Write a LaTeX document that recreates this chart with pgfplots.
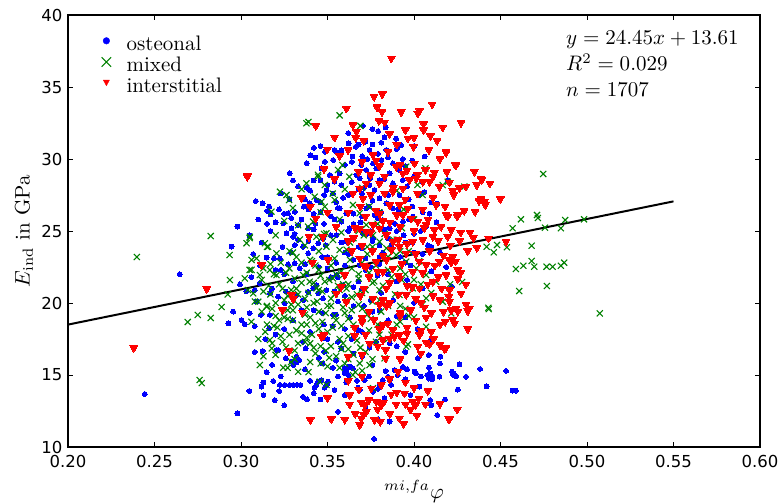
\documentclass[border=0pt]{standalone}
\usepackage{fontspec}
\usepackage{graphicx}
\usepackage{pgfplots}
\pgfplotsset{compat=1.18}
\newfontfamily\dejavu{DejaVu Sans}
\definecolor{mplgreen}{rgb}{0,0.5,0}
\newcommand\bigtxt[1]{\scalebox{2.1}{#1}}
\begin{document}
\begin{tikzpicture}
\begin{axis}[
  at={(0pt,0pt)}, anchor=south west,
  scale only axis, width=692pt, height=432pt,
  xmin=0.2, xmax=0.6, ymin=10, ymax=40,
  xtick={0.2,0.25,...,0.61}, ytick={10,15,...,40},
  tick align=inside, major tick length=5pt,
  tick style={black, line width=0.8pt},
  axis line style={black, line width=1.4pt},
  /pgf/number format/assume math mode=true,
  ticklabel style={font=\dejavu\fontsize{16.5}{18}\selectfont},
  xticklabel style={/pgf/number format/.cd, fixed, fixed zerofill, precision=2},
  xticklabel shift=5pt, yticklabel shift=2pt,
  xlabel={\bigtxt{${}^{mi,fa}\varphi$}},
  ylabel={\bigtxt{$E_{\mathrm{ind}}$ in GPa}},
  xlabel style={at={(axis description cs:0.5,0)}, anchor=north, yshift=-33pt, inner sep=0pt},
  ylabel style={at={(axis description cs:-0.0636,0.5)}, anchor=center, inner sep=0pt},
  legend style={draw=none, fill=none, at={(axis description cs:0,1)}, anchor=north west,
    xshift=32pt, yshift=-20pt, inner sep=0pt, row sep=0pt, column sep=6pt,
    nodes={inner sep=0pt, text height=15pt, text depth=6.2pt}},
  legend cell align=left,
]
\addplot[only marks, mark=*, mark size=2.4pt, mark options={draw=blue, fill=blue, line width=0pt},
  legend image code/.code={\path (0pt,0pt) (20pt,0pt); \fill[blue] (6pt,5pt) circle (3.3pt);}] coordinates {
(.3705,32.3)(.3836,32.2)(.3759,32.08)(.3792,31.94)(.3421,30.78)(.3401,30.26)(.3622,31.09)(.3663,30.85)(.3720,31.2)(.3811,31.13)(.3897,31.41)(.3830,31.5)(.3926,30.95)(.3486,30.51)(.3541,30.63)(.3644,30.17)(.3743,30.63)(.3840,30.63)(.3792,30.35)(.3936,30.0)(.4062,30.17)(.3532,29.93)(.3484,29.81)(.3465,29.35)(.3282,29.0)(.3695,29.58)(.3763,29.7)(.3811,29.93)(.3878,29.7)(.3724,29.24)(.3782,29.35)(.3859,29.0)(.3916,29.24)(.3513,28.89)(.3570,29.0)(.3667,28.89)(.3747,28.66)
(.3086,27.08)(.3125,26.92)(.3163,26.69)(.3152,26.39)(.3171,26.16)(.2979,25.3)(.2946,23.91)(.3272,26.23)(.3311,26.34)(.3363,26.69)(.3397,26.92)(.3436,27.15)(.3494,27.85)(.3532,27.61)(.3541,28.42)(.3580,28.19)
(.3263,24.84)(.3302,24.6)(.3330,24.38)(.3311,24.03)(.3359,23.91)(.3388,23.45)(.3417,23.8)(.3446,24.15)(.3474,24.49)
(.3244,25.53)(.3292,25.19)(.3330,25.42)(.3388,25.19)
(.3148,23.15)(.3225,23.1)(.3272,22.69)(.3311,22.76)(.3340,22.41)
(.2994,21.3)(.3109,21.37)(.3080,20.9)(.3167,20.67)(.3215,20.44)(.3253,19.98)(.3321,20.56)(.3359,20.21)(.3417,21.02)(.3446,20.67)(.3474,20.33)(.3494,20.9)
(.3743,28.19)(.3772,27.85)(.3801,27.27)(.3840,26.92)(.3724,26.57)(.3772,26.11)(.3820,25.76)(.3859,25.19)(.3705,24.84)(.3763,24.49)
(.3570,26.57)(.3609,26.23)(.3580,25.65)(.3628,25.19)(.3551,24.72)(.3609,24.26)
(.3686,28.66)(.3743,28.77)(.3801,28.54)(.3878,28.31)(.3936,28.54)(.3916,27.5)(.3878,26.57)(.3936,25.65)(.3993,26.0)(.4070,25.3)
(.3686,22.64)(.3551,21.94)(.3590,21.25)(.3436,21.25)(.3388,20.78)
(.2955,19.4)(.2927,18.59)(.3003,18.82)(.3022,18.52)(.3115,19.17)(.3163,18.24)(.3125,16.67)(.3215,16.74)(.3259,16.16)(.3302,15.69)(.3321,15.88)(.3292,15.92)(.3148,15.19)(.3119,14.19)(.3129,14.47)(.3048,13.89)(.3186,14.58)(.3225,14.31)(.3253,14.31)(.3282,14.31)(.3302,14.31)(.3324,14.31)(.3344,14.31)(.3221,13.89)(.3196,13.26)(.3359,13.49)(.3382,13.31)(.3426,14.12)(.3436,14.31)(.3446,14.54)(.3465,14.65)(.3421,13.73)(.3484,14.12)(.3498,14.35)(.3503,14.54)(.3541,13.96)(.3561,12.45)(.2979,12.34)(.3609,14.49)(.3647,15.47)(.3609,15.35)(.3599,15.12)(.3619,15.0)(.3676,14.12)(.3686,13.96)(.3715,14.65)(.3763,13.84)(.3792,14.03)(.3805,14.31)(.3820,14.65)(.3849,14.88)(.3859,14.65)(.3868,14.31)(.3836,15.28)(.3888,15.35)(.3936,15.56)(.3907,15.0)(.4003,15.23)(.4012,15.12)(.4032,14.19)(.4022,16.16)(.4086,15.51)(.4076,15.0)(.4086,14.9)(.4095,15.1)(.4105,14.95)(.4086,14.75)(.4105,14.7)(.4147,14.88)(.4086,16.39)(.4153,16.27)(.4230,15.12)(.4236,14.95)(.4093,13.26)(.4134,12.22)(.3859,11.76)(.3769,10.56)(.3792,11.94)(.3167,19.17)(.3205,16.74)(.3474,17.55)(.3359,17.31)(.3374,16.85)(.3321,16.27)(.3336,16.04)(.3580,16.85)(.3599,15.47)(.3628,15.58)(.3743,16.9)(.3532,19.17)
(.4263,15.74)(.4220,15.23)(.4224,15.05)(.4243,14.93)(.4301,14.88)(.4382,15.42)(.4532,15.28)(.4253,13.98)(.4420,14.21)(.4570,13.91)(.4589,13.91)
(.4220,21.13)(.4195,28.54)(.2444,13.68)(.2646,22.0)(.4186,22.5)
(.3550,27.0)(.3620,27.5)(.3680,27.9)(.3700,26.0)(.3650,25.5)(.3750,25.0)(.3800,24.0)(.3850,24.5)(.3900,25.0)(.3950,24.2)(.3600,23.5)(.3650,23.0)(.3700,23.8)(.3750,22.5)(.3800,23.2)(.3850,22.0)(.3900,21.5)(.3950,22.8)(.4000,23.5)(.3550,22.8)(.3500,23.2)(.3450,22.5)(.3520,21.8)(.3600,20.5)(.3650,19.8)(.3700,21.0)(.3750,20.2)(.3800,19.5)(.3850,18.8)(.3550,19.2)(.3480,18.5)(.3420,19.5)(.3400,18.0)(.3500,17.5)(.3600,18.2)(.3700,18.0)(.3780,17.3)(.3450,16.2)(.3550,16.0)(.3650,16.5)(.3900,17.0)(.3400,27.8)(.3460,28.5)(.3600,29.6)(.3700,30.2)(.3550,30.5)(.3620,31.8)(.3760,31.0)(.3850,30.1)(.3950,29.5)(.4000,28.8)(.4030,27.5)(.4100,27.0)(.4134,26.9)(.4050,26.3)(.4000,24.8)(.4080,24.0)(.4150,23.5)(.4100,22.2)(.4050,21.0)(.4000,20.0)(.3950,19.0)(.4020,18.2)(.4100,17.5)(.3300,21.5)(.3250,22.0)(.3200,22.3)(.3180,21.0)(.3260,20.8)(.3350,19.5)(.3300,18.8)(.3250,18.2)(.3200,17.8)(.3380,22.0)(.3150,25.5)(.3220,26.5)(.3280,27.2)(.3350,25.8)(.3420,26.2)(.3480,25.5)(.3520,26.0)(.3460,27.0)(.3380,28.0)(.3300,28.5)
(.3460,30.9)(.3580,30.6)(.3680,31.0)(.3900,30.7)(.4000,30.9)
(.3380,29.7)(.3430,30.1)(.3640,29.8)(.3730,30.0)(.3990,29.9)
(.3330,28.1)(.3420,28.5)(.3500,28.2)(.3640,28.4)(.3710,28.0)(.3830,28.6)(.3960,28.1)(.4050,28.4)
(.3230,27.6)(.3370,27.2)(.3480,27.5)(.3590,27.3)(.3700,27.6)(.3760,27.1)(.3850,27.5)(.3970,27.2)(.4060,27.7)
(.3250,26.2)(.3390,26.5)(.3460,26.3)(.3560,26.6)(.3650,26.2)(.3740,26.7)(.3810,26.3)(.3910,26.5)(.3990,26.7)(.4090,26.2)
(.3100,25.8)(.3200,25.6)(.3290,25.9)(.3430,25.5)(.3540,25.8)(.3690,25.6)(.3790,25.9)(.3890,25.5)(.3970,25.8)(.4130,25.6)
(.3050,24.7)(.3170,25.0)(.3310,24.8)(.3420,25.1)(.3520,24.7)(.3620,25.0)(.3730,24.8)(.3830,25.1)(.3940,24.7)(.4040,25.0)
(.3120,24.2)(.3240,23.9)(.3390,24.3)(.3490,24.0)(.3580,24.2)(.3680,23.9)(.3760,24.3)(.3870,24.0)(.3990,24.2)(.4100,23.9)
(.3070,23.4)(.3190,23.1)(.3290,23.5)(.3470,23.2)(.3620,23.4)(.3720,23.1)(.3820,23.5)(.3920,23.2)(.4050,23.4)
(.3110,22.6)(.3230,22.3)(.3370,22.7)(.3500,22.4)(.3600,22.6)(.3720,22.3)(.3800,22.7)(.3880,22.4)(.3980,22.6)
(.3060,21.8)(.3560,21.8)(.3680,21.5)(.3790,21.9)(.3960,21.6)
(.3030,20.8)(.3540,20.8)(.3650,21.1)(.3810,20.7)
(.3090,20.1)(.3560,20.1)(.3710,19.8)(.3880,20.2)
(.3050,19.3)(.3470,19.3)(.3630,19.0)(.3760,19.4)(.3900,19.1)
(.3080,18.4)(.3530,18.4)(.3680,18.1)(.3810,18.5)
(.3140,17.5)(.3560,17.3)(.3640,17.5)(.3860,17.2)
(.3080,16.6)(.3480,16.6)(.3700,16.3)(.3950,16.6)
(.3180,15.7)(.3370,15.4)(.3470,15.8)(.3530,15.5)(.3760,15.7)(.3960,15.4)(.4150,15.8)
(.3230,14.9)(.3400,14.6)(.3560,14.9)(.3670,14.6)(.3740,14.9)(.3950,14.7)(.4040,14.9)
(.3130,13.6)(.3460,13.3)(.3600,13.6)(.3830,13.4)(.3980,13.6)(.4180,13.3)
(.3250,12.9)(.3720,12.7)(.4100,12.9)
};
\addlegendentry{\bigtxt{osteonal}}
\addplot[only marks, mark=x, mark size=4.3pt, color=mplgreen, mark options={line width=1.1pt},
  legend image code/.code={\path (0pt,0pt) (20pt,0pt); \draw[mplgreen, line width=1.1pt] (1.3pt,0.3pt) -- (10.7pt,9.7pt) (1.3pt,9.7pt) -- (10.7pt,0.3pt);}] coordinates {
(.3378,32.48)(.3570,33.03)(.3690,32.3)(.3586,29.58)(.3445,28.9)(.3955,29.47)(.4066,29.35)(.3626,28.77)(.3561,29.24)
(.4747,28.96)
(.4291,28.08)(.4618,25.81)(.4570,25.19)(.4711,26.11)(.4716,25.9)(.4874,25.76)(.4849,25.19)(.4757,25.23)(.4983,25.81)(.4420,23.91)(.4480,24.03)(.4461,23.52)(.4537,23.87)(.4680,23.98)(.4589,22.36)(.4632,22.59)(.4680,22.92)(.4695,22.52)(.4766,22.52)(.4801,22.52)(.4849,22.59)(.4868,22.8)(.4608,20.83)(.4768,21.18)(.4278,21.46)(.4209,21.3)(.4430,19.67)
(.4432,19.58)(.5074,19.28)(.4215,19.28)
(.3225,27.73)(.3263,27.5)(.3278,27.15)(.3176,26.34)(.3051,24.6)(.3032,24.15)(.3138,24.15)(.3157,23.91)(.3205,23.45)(.3061,22.99)(.2936,21.6)(.3022,21.71)(.3109,21.94)(.3129,22.41)(.3167,22.29)(.3205,21.94)(.3071,20.67)(.3100,20.09)(.3148,19.74)(.3388,25.3)(.3417,25.65)(.3436,24.6)(.3465,24.49)(.3494,24.84)(.3532,24.38)(.3494,23.91)(.3570,23.68)(.3426,27.38)(.3465,27.04)(.3484,26.69)(.3541,27.15)(.3378,28.31)(.3446,28.77)(.3484,28.19)(.3359,21.94)(.3397,21.48)(.3436,21.02)(.3484,21.48)(.3532,21.71)(.3590,21.94)(.3647,26.81)(.3686,26.23)(.3724,25.42)(.3763,24.72)(.3801,24.26)(.3840,23.8)(.3897,23.33)(.3955,22.87)(.4013,22.41)(.4070,21.94)(.4128,21.48)(.3993,21.02)(.3916,20.56)(.4070,20.33)(.4166,20.09)(.4166,28.19)(.4195,28.42)
(.3100,17.5)(.3109,15.69)(.3167,17.43)(.3178,16.85)(.3244,15.51)(.3330,15.23)(.3455,14.54)(.3494,14.31)(.3647,15.0)(.3686,15.81)(.3763,14.08)(.3955,16.97)(.3965,17.13)(.4070,18.35)(.3830,16.16)(.3743,15.69)
(.2398,23.19)(.2692,18.68)(.2750,19.17)(.2761,14.65)(.2773,14.44)(.2825,18.96)(.2825,24.65)(.2888,19.72)(.2923,20.6)(.2934,23.33)(.3050,24.51)(.3061,22.3)(.3390,32.57)
(.3250,19.0)(.3300,19.5)(.3350,18.5)(.3400,19.0)(.3450,18.2)(.3500,19.8)(.3550,18.8)(.3600,19.3)(.3650,18.5)(.3700,19.6)(.3750,18.9)(.3800,20.2)(.3850,19.8)(.3280,17.8)(.3330,17.2)(.3380,17.6)(.3420,16.9)(.3470,17.8)(.3520,17.0)(.3570,17.5)(.3620,16.8)(.3670,17.4)(.3720,16.6)(.3270,20.5)(.3320,21.0)(.3370,20.3)(.3420,20.0)(.3470,20.8)(.3520,20.3)(.3570,20.9)(.3620,21.3)(.3670,20.6)(.3720,20.9)(.3770,21.5)(.3820,21.2)(.3870,21.8)(.3920,22.4)(.3970,23.6)(.3520,22.6)(.3580,22.2)(.3630,23.0)(.3680,22.0)(.3730,23.4)(.3780,22.6)(.3830,24.8)(.3880,24.4)(.3930,25.2)(.4000,25.8)(.3580,24.9)(.3630,24.2)(.3680,25.0)(.3730,23.9)(.3400,23.0)(.3450,23.6)(.3300,23.5)(.3350,22.8)(.3200,20.0)(.3150,18.5)(.3130,20.8)(.3220,18.8)(.3600,15.8)(.3500,15.6)(.3400,15.9)(.3550,16.3)(.3700,15.3)(.3800,17.8)(.3850,17.5)(.3900,18.5)(.3950,19.6)(.4000,19.0)(.4050,19.9)(.4100,20.7)(.4000,21.6)(.3940,26.5)(.3900,27.8)(.3800,26.3)(.3600,27.9)(.3700,28.0)(.4050,27.5)(.4020,28.2)
(.3150,23.9)(.3280,23.6)(.3370,24.0)(.3610,23.7)(.3760,23.9)(.3920,23.6)
(.3090,23.1)(.3230,22.8)(.3320,23.2)(.3410,22.9)(.3540,23.1)(.3700,22.8)(.3850,23.2)(.4030,22.9)
(.3050,22.3)(.3190,22.0)(.3280,22.4)(.3380,22.1)(.3450,22.3)(.3550,22.0)(.3640,22.4)(.3740,22.1)(.3850,22.3)(.3950,22.0)
(.3120,21.6)(.3220,21.3)(.3310,21.7)(.3420,21.4)(.3510,21.6)(.3590,21.3)(.3680,21.7)(.3760,21.4)(.3930,21.6)(.4040,21.3)
(.3040,20.9)(.3170,20.6)(.3240,21.0)(.3390,20.7)(.3450,20.9)(.3540,20.6)(.3610,21.0)(.3700,20.7)(.3800,20.9)(.3890,20.6)
(.3080,20.1)(.3150,19.8)(.3250,20.2)(.3330,19.9)(.3440,20.1)(.3520,19.8)(.3610,20.2)(.3680,19.9)(.3760,20.1)(.3920,19.8)
(.3120,19.4)(.3200,19.1)(.3270,19.5)(.3370,19.2)(.3450,19.4)(.3540,19.1)(.3640,19.5)(.3730,19.2)(.3810,19.4)(.3970,19.1)
(.3060,18.7)(.3190,18.4)(.3300,18.8)(.3380,18.5)(.3470,18.7)(.3580,18.4)(.3700,18.8)(.3790,18.5)(.3920,18.7)
(.3140,18.0)(.3230,17.7)(.3320,18.1)(.3410,17.8)(.3500,18.0)(.3620,17.7)(.3740,18.1)(.3870,17.8)
(.3180,17.2)(.3260,16.9)(.3370,17.3)(.3460,17.0)(.3590,17.2)(.3690,16.9)(.3780,17.3)
(.3200,16.4)(.3310,16.1)(.3430,16.5)(.3510,16.2)(.3650,16.4)(.3760,16.1)
(.3270,15.5)(.3390,15.2)(.3570,15.5)(.3660,15.2)
(.3200,24.7)(.3340,24.4)(.3480,24.8)(.3650,24.5)(.3710,24.7)(.3900,24.4)
(.3250,25.7)(.3330,25.4)(.3570,25.8)(.3790,25.5)
(.3300,26.6)(.3460,26.3)(.3740,26.7)
(.3350,27.9)(.3530,27.6)
(.3160,21.2)(.3290,20.9)(.3350,21.4)(.3460,21.9)(.3560,21.2)(.3180,19.6)(.3290,19.9)(.3380,19.7)(.3490,19.3)(.3590,19.7)
(.3210,18.3)(.3270,18.9)(.3350,17.9)(.3430,18.6)(.3530,18.3)(.3620,18.9)(.3240,17.3)(.3310,16.7)(.3400,17.2)(.3490,16.7)
(.3580,16.8)(.3290,15.9)(.3460,15.8)(.3620,16.1)(.3130,16.3)(.3170,22.7)(.3260,22.1)(.3430,22.6)(.3330,20.6)(.3640,20.4)
};
\addlegendentry{\bigtxt{mixed}}
\addplot[only marks, mark=triangle*, mark size=4.4pt, mark options={rotate=180, draw=red, fill=red, line width=0pt},
  legend image code/.code={\path (0pt,0pt) (20pt,0pt); \fill[red] (3pt,8pt) -- (9pt,8pt) -- (6pt,2.5pt) -- cycle;}] coordinates {
(.3869,36.99)(.3769,34.33)(.3817,34.5)(.3609,33.5)(.3786,33.6)(.3815,33.26)(.3926,33.26)(.4105,33.8)(.4032,33.35)(.4022,33.17)(.3432,32.3)(.3647,32.36)(.3797,32.66)(.3830,32.55)(.3667,31.9)(.3663,31.48)(.3541,31.5)(.3859,31.74)(.3709,31.27)(.4055,32.43)(.4055,32.0)(.4166,32.2)(.3965,31.44)(.4095,31.6)(.4134,31.27)(.3997,30.85)(.4086,30.63)(.4186,30.44)(.3499,30.67)(.3619,30.63)(.3763,30.28)(.3570,30.21)(.4003,29.7)(.3897,29.47)(.4066,29.24)(.4118,29.05)(.4239,29.58)(.3036,28.82)(.3936,29.0)
(.4272,32.52)(.4186,30.5)(.4243,29.58)(.4349,29.12)(.4388,28.66)
(.4391,28.54)(.4439,28.31)(.4363,28.19)(.4263,28.0)(.4224,27.78)(.4205,28.38)(.4388,27.22)(.4407,27.04)(.4376,27.08)(.4412,26.81)(.4499,27.22)(.4353,26.34)(.4253,26.11)(.4195,26.0)(.4215,25.07)(.4195,24.6)(.4324,24.91)(.4343,24.53)(.4263,24.31)(.4431,24.49)(.4532,24.26)(.4363,23.84)(.4224,23.22)(.4205,22.99)(.4215,22.82)(.4253,22.29)(.4253,21.67)(.4272,20.67)(.4205,20.9)(.4201,20.44)(.4205,20.09)(.4301,19.91)(.4320,19.63)(.4243,19.63)
(.4215,19.51)(.4253,19.4)(.4311,19.44)(.4224,18.82)(.4234,18.59)(.4311,18.19)(.4186,16.9)(.4205,11.94)
(.3240,19.51)(.3355,19.35)(.3278,16.67)(.3480,17.78)(.3465,17.66)(.3657,18.29)(.3657,17.73)(.3619,16.27)(.3743,17.2)(.3820,17.43)(.3859,17.55)(.3888,17.66)(.3916,17.78)(.3849,18.59)(.3878,18.12)(.3769,18.82)(.3820,18.47)(.4032,17.78)(.4022,16.97)(.4070,17.27)(.4090,17.13)(.4113,17.5)(.4176,16.81)(.3836,16.16)(.3836,16.74)(.3907,15.23)(.3859,14.72)(.3811,14.31)(.3753,14.08)(.3628,13.61)(.3628,12.97)(.3695,13.1)(.3715,12.92)(.3724,12.45)(.3709,12.27)(.3695,12.0)(.3686,11.53)(.3739,13.26)(.3782,13.15)(.3811,12.92)(.3824,13.1)(.3772,11.88)(.3805,11.76)(.3868,13.66)(.3945,13.73)(.3897,12.97)(.3951,12.97)(.3916,12.0)(.3993,13.15)(.4009,12.92)(.4028,13.38)(.4066,12.97)(.4016,12.18)(.3401,11.88)(.3522,11.94)(.4201,11.94)
(.3036,28.77)(.3432,25.88)(.3393,24.6)(.3474,24.6)(.3413,22.82)(.3503,22.99)(.3119,22.64)(.3292,20.56)(.3302,20.28)(.3599,21.94)(.3580,21.13)(.3647,27.61)(.3705,27.27)(.3686,27.97)(.3724,28.31)(.3830,27.61)(.3878,27.73)(.3936,27.97)(.3974,28.54)(.4013,28.66)(.4051,28.42)(.4109,28.77)(.4147,28.08)(.3916,26.81)(.3965,26.57)(.3936,26.11)(.3984,25.88)(.4022,25.65)(.4070,25.42)(.4128,26.81)(.4186,26.11)(.4157,25.3)(.4118,25.07)(.3686,25.19)(.3724,24.95)(.3763,25.42)(.3801,25.19)(.3840,24.72)(.3878,24.26)(.3916,23.91)(.3955,23.45)(.3993,24.26)(.4051,24.38)(.4109,24.6)(.3686,23.1)(.3724,22.52)(.3782,22.87)(.3820,22.17)(.3878,22.41)(.3916,21.71)(.3993,22.17)(.4070,22.64)(.4147,22.87)(.4186,21.94)(.4109,21.48)(.4032,21.02)(.3955,20.56)(.3840,21.02)(.3551,20.67)(.3609,20.09)(.3763,20.33)(.3801,19.86)
(.2380,16.88)(.2802,20.97)
(.3650,24.5)(.3550,25.3)(.3620,26.3)(.3700,29.8)(.3750,28.9)(.3800,29.5)(.3850,30.5)(.3900,31.0)(.3950,32.0)(.4000,31.5)(.3800,26.2)(.3860,25.6)(.3760,23.6)(.3960,21.2)(.4040,20.0)(.4100,19.3)(.4150,18.5)(.4100,18.0)(.3960,18.3)(.3920,19.3)(.3860,20.0)(.3700,19.0)(.3500,26.3)(.3350,27.3)(.3540,28.6)(.3480,29.3)(.3400,26.7)(.3620,14.6)(.3700,14.9)(.3950,14.5)(.4000,14.1)(.4080,13.9)(.4150,13.0)(.4250,12.6)(.3660,12.3)(.3600,11.9)(.3940,11.6)(.3500,13.4)
(.3780,29.9)(.3920,29.6)(.4150,30.0)
(.3680,29.1)(.3830,28.8)(.3960,29.2)(.4020,28.9)(.4190,29.1)
(.3800,28.3)(.3880,28.0)(.4090,28.4)(.4300,28.1)
(.3750,27.5)(.3950,27.2)(.4020,27.6)(.4110,27.3)(.4230,27.5)
(.3690,26.7)(.3780,26.4)(.3860,26.8)(.4050,26.5)(.4180,26.7)(.4290,26.4)
(.3720,26.0)(.3820,25.7)(.3900,26.1)(.4080,25.8)(.4250,26.0)
(.3660,25.2)(.3750,24.9)(.3920,25.3)(.4000,25.0)(.4060,25.2)(.4270,24.9)
(.3620,24.3)(.3700,24.0)(.3910,24.4)(.3960,24.1)(.4140,24.3)(.4210,24.0)
(.3640,23.6)(.3820,23.3)(.3870,23.7)(.4010,23.4)(.4090,23.6)(.4170,23.3)(.4310,23.6)
(.3710,22.6)(.3840,23.0)(.3930,22.7)(.4030,22.9)(.4120,22.6)(.4240,22.9)
(.3740,21.8)(.3790,22.2)(.3910,21.9)(.4050,22.1)(.4140,21.8)(.4270,22.1)
(.3710,21.0)(.3860,21.4)(.3990,21.1)(.4080,21.3)(.4160,21.0)(.4300,21.3)
(.3690,20.5)(.3820,20.2)(.3910,20.6)(.4010,20.3)(.4110,20.5)(.4150,20.2)
(.3740,19.4)(.3840,19.8)(.3980,19.5)(.4060,19.7)(.4170,19.4)
(.3700,18.7)(.3920,19.1)(.4010,18.8)(.4070,19.0)(.4180,18.7)
(.3720,17.8)(.3800,18.2)(.3960,17.9)(.4040,18.1)
(.3790,17.0)(.3940,17.4)(.4150,17.1)
(.3700,16.4)(.3920,16.1)(.4040,16.5)
(.3680,14.0)(.3900,13.8)
(.3790,12.6)(.3860,12.3)(.3980,12.6)
};
\addlegendentry{\bigtxt{interstitial}}
\addplot[black, line width=2pt, no marks, forget plot] coordinates {(0.2,18.50)(0.55,27.0575)};
\node[anchor=base west, inner sep=0pt] at (axis description cs:0.7197,0.9306)
  {\bigtxt{\renewcommand\arraystretch{1.03}\begin{tabular}[t]{@{}l@{}}$y=24.45x+13.61$\\ $R^2=0.029$\\ $n=1707$\end{tabular}}};
\end{axis}
\pgfresetboundingbox
\path[use as bounding box] (-68pt,-56pt) rectangle (710pt,447pt);
\end{tikzpicture}
\end{document}
